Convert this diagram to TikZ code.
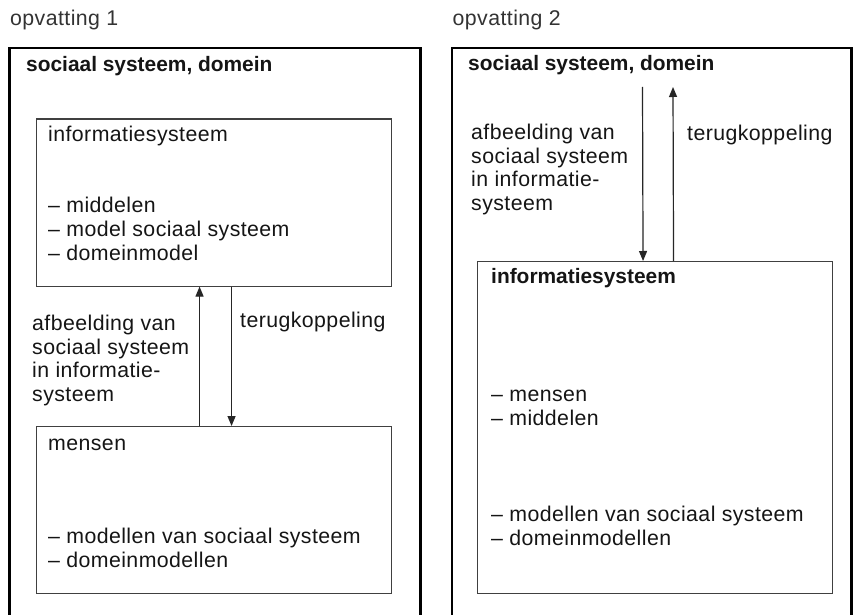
\documentclass[tikz,border=0pt]{standalone}
\usepackage{fontspec}
\setmainfont{Liberation Sans}
\newfontfamily\regf[LetterSpace=2]{Liberation Sans}
\newfontfamily\boldf{Liberation Sans Bold}
\usetikzlibrary{arrows.meta}
\definecolor{txt}{HTML}{151515}
\definecolor{hdr}{HTML}{333333}
\begin{document}
\begin{tikzpicture}[x=1pt,y=-1pt,
  outerbox/.style={draw=black,line width=2.6pt},
  innerbox/.style={draw=black!75,line width=1.1pt,rectangle,inner sep=0pt,anchor=north west},
  lbl/.style={anchor=base west,inner sep=0pt,text=txt,align=left,font=\regf\fontsize{21.3}{23.6}\selectfont},
  blbl/.style={anchor=base west,inner sep=0pt,text=txt,align=left,font=\boldf\fontsize{20.9}{23.6}\selectfont},
  hlbl/.style={anchor=base west,inner sep=0pt,text=hdr,font=\regf\fontsize{21.3}{23.6}\selectfont},
  arr/.style={line width=1.2pt,draw=black!85,-{Triangle[length=10pt,width=8pt]}}]
\useasboundingbox (0,0) rectangle (862,615);
\fill[white] (0,0) rectangle (862,615);
\clip (0,0) rectangle (862,615);
% headings
\node[hlbl] (h1) at (10,26) {opvatting 1};
\node[hlbl] (h2) at (452.5,26) {opvatting 2};
% outer boxes
\draw[outerbox] (9.5,48) rectangle (420.5,660);
\draw[outerbox] (452,48) rectangle (851.5,660);
% left
\node[blbl] (s1) at (26,71.5) {sociaal systeem, domein};
\node[innerbox,minimum width=355pt,minimum height=167pt] (i1) at (36,118.5) {};
\node[lbl] (i1t) at (48,142) {informatiesysteem};
\node[lbl] (i1l) at (48,260) {– middelen\\– model sociaal systeem\\– domeinmodel};
\node[innerbox,minimum width=355pt,minimum height=167pt] (m1) at (36,426) {};
\node[lbl] (m1t) at (48,450) {mensen};
\node[lbl] (m1l) at (48,567.5) {– modellen van sociaal systeem\\– domeinmodellen};
\draw[arr] ([xshift=-14.5pt]m1.north) -- ([xshift=-14.5pt]i1.south);
\draw[arr] ([xshift=17.5pt]i1.south) -- ([xshift=17.5pt]m1.north);
\node[lbl] (a1) at (32,401.5) {afbeelding van\\sociaal systeem\\in informatie-\\systeem};
\node[lbl] (t1) at (240,327.5) {terugkoppeling};
% right
\node[blbl] (s2) at (468,70.5) {sociaal systeem, domein};
\node[innerbox,minimum width=355pt,minimum height=332pt] (i2) at (477,261) {};
\coordinate (top2) at (654.5,87);
\draw[arr] ([xshift=-12pt]top2) -- ([xshift=-12pt]i2.north);
\draw[arr] ([xshift=18.5pt]i2.north) -- ([xshift=18.5pt]top2);
\node[lbl] (a2) at (471,210.5) {afbeelding van\\sociaal systeem\\in informatie-\\systeem};
\node[lbl] (t2) at (687,140.5) {terugkoppeling};
\node[blbl] (i2t) at (491,283.5) {informatiesysteem};
\node[lbl] (i2l) at (491,425) {– mensen\\– middelen};
\node[lbl] (i2m) at (491,545) {– modellen van sociaal systeem\\– domeinmodellen};
\end{tikzpicture}
\end{document}
